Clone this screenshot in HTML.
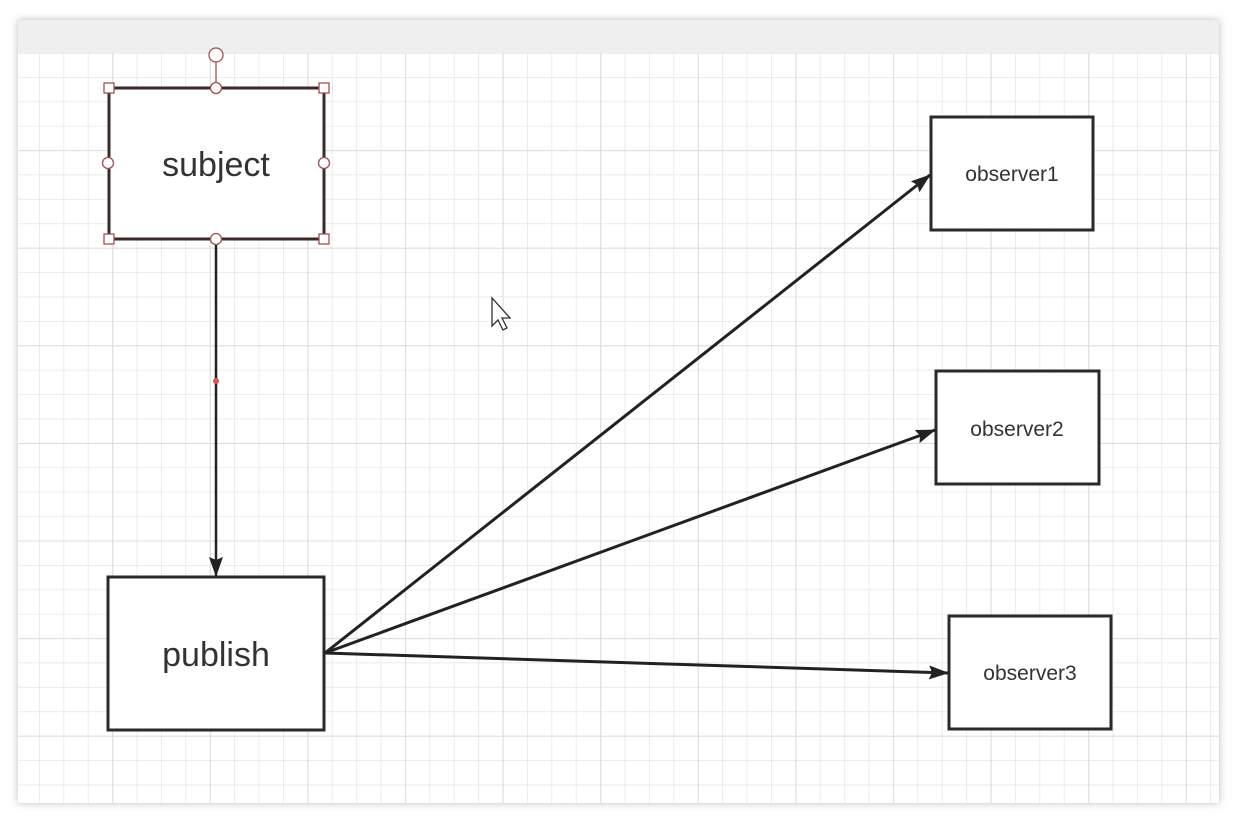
<!DOCTYPE html>
<html><head><style>
html,body{margin:0;padding:0;width:1237px;height:822px;background:#fff;overflow:hidden;font-family:"Liberation Sans",sans-serif}
</style></head><body>
<svg width="1237" height="822" xmlns="http://www.w3.org/2000/svg">
<defs>
<filter id="sh" x="-5%" y="-5%" width="110%" height="110%"><feGaussianBlur stdDeviation="4"/></filter>
<pattern id="g" x="14.6" y="52.5" width="24.4" height="24.4" patternUnits="userSpaceOnUse">
<path d="M0 0H24.4M0 0V24.4" stroke="#e6e6e6" stroke-width="1.5" fill="none"/></pattern>
<pattern id="G" x="14.6" y="52.5" width="97.6" height="97.6" patternUnits="userSpaceOnUse">
<path d="M0 0H97.6M0 0V97.6" stroke="#dcdcdc" stroke-width="2" fill="none"/></pattern>
<marker id="a" markerWidth="20" markerHeight="14" refX="19" refY="7" orient="auto" markerUnits="userSpaceOnUse" viewBox="0 0 20 14">
<path d="M0 0L20 7L0 14L3 7Z" fill="#222"/></marker>
</defs>
<rect x="18" y="20" width="1201" height="783" fill="#bbb" filter="url(#sh)"/>
<rect x="18" y="20" width="1201" height="783" fill="#fff"/>
<rect x="18" y="53" width="1201" height="750" fill="url(#g)"/>
<rect x="18" y="53" width="1201" height="750" fill="url(#G)"/>
<rect x="18" y="20" width="1201" height="33" fill="#efefef"/>
<g stroke="#2a2a2a" stroke-width="3" fill="#fff">
<rect x="931" y="117" width="162" height="113"/>
<rect x="936" y="371" width="163" height="113"/>
<rect x="949" y="616" width="162" height="113"/>
<rect x="108" y="577" width="216" height="153"/>
</g>
<rect x="109" y="88" width="215" height="151" fill="#fff" stroke="#3a2a2a" stroke-width="3"/>
<g stroke="#222" stroke-width="3" fill="none">
<line x1="216" y1="241" x2="216" y2="576" marker-end="url(#a)" stroke-width="2.5"/>
<line x1="325" y1="653" x2="930" y2="175" marker-end="url(#a)"/>
<line x1="325" y1="653" x2="935" y2="430" marker-end="url(#a)"/>
<line x1="325" y1="653" x2="948" y2="673" marker-end="url(#a)"/>
</g>
<circle cx="216" cy="381" r="3" fill="#e05050"/>
<g fill="#fff" stroke="#a05050" stroke-width="1.3">
<line x1="216" y1="62" x2="216" y2="88"/>
<circle cx="216" cy="55" r="7"/>
<circle cx="216" cy="88" r="5.5"/><circle cx="216" cy="239" r="5.5"/>
<circle cx="108" cy="163" r="5.5"/><circle cx="324" cy="163" r="5.5"/>
<rect x="104" y="83" width="10" height="10"/><rect x="319" y="83" width="10" height="10"/>
<rect x="104" y="234" width="10" height="10"/><rect x="319" y="234" width="10" height="10"/>
</g>
<g fill="#333" text-anchor="middle">
<text x="216" y="176" font-size="34">subject</text>
<text x="216" y="666" font-size="34">publish</text>
<text x="1012" y="181" font-size="21">observer1</text>
<text x="1017" y="436" font-size="21">observer2</text>
<text x="1030" y="680" font-size="21">observer3</text>
</g>
<path d="M492 298V326L498 320L503 330L507 328L502 318L510 318Z" fill="#fff" stroke="#333" stroke-width="1.3"/>
</svg>
</body></html>
